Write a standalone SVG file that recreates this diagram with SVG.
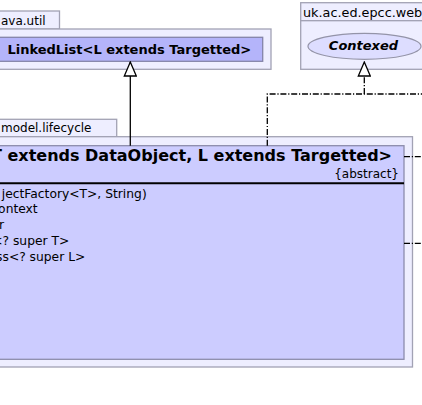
<svg xmlns="http://www.w3.org/2000/svg" width="422" height="405" viewBox="0 0 422 405">
<defs>
<style>
.pkg{fill:#eeeeff;stroke:#a2a2b4;stroke-width:1.3}
.cls{fill:#ccccff;stroke:#8c8cac;stroke-width:1.3}
.lnk{fill:#b4b4fa;stroke:#8484a8;stroke-width:1.3}
.ell{fill:#ddddff;stroke:#9494a8;stroke-width:1.2}
.t{font-family:"DejaVu Sans",sans-serif;font-size:12px;fill:#000}
.m{font-family:"DejaVu Sans",sans-serif;font-size:12.3px;fill:#000}
.b{font-family:"DejaVu Sans",sans-serif;font-weight:bold;fill:#000}
.edge{fill:none;stroke:#000;stroke-width:1.3}
.dash{stroke-dasharray:6,1.8,1.2,1.8}
</style>
<marker id="tri" viewBox="0 0 16 14" refX="15" refY="7" markerWidth="16" markerHeight="14" markerUnits="userSpaceOnUse" orient="auto">
<path d="M15,7 L1,1 L1,13 Z" fill="#fff" stroke="#000" stroke-width="1.3"/>
</marker>
</defs>
<rect width="422" height="405" fill="#fff"/>
<g id="pkg-java-util">
<rect class="pkg" x="-5" y="11" width="64.5" height="18"/>
<rect class="pkg" x="-5" y="29" width="276" height="40.3"/>
<text class="t" x="1" y="24.5">ava.util</text>
</g>
<g id="pkg-uk-ac-ed-epcc-web">
<rect class="pkg" x="300.7" y="2.7" width="130" height="18"/>
<rect class="pkg" x="300.7" y="20.7" width="130" height="48.6"/>
<text class="t" x="303" y="16.5" style="font-size:12.8px">uk.ac.ed.epcc.web</text>
</g>
<g id="pkg-model-lifecycle">
<rect class="pkg" x="-5" y="119.3" width="121.7" height="17.4"/>
<rect class="pkg" x="-5" y="136.7" width="417.5" height="230.3"/>
<text class="t" x="1" y="132">model.lifecycle</text>
</g>
<g id="LinkedList">
<rect class="lnk" x="-4" y="37.3" width="266.7" height="24"/>
<text class="b" x="129.3" y="54" font-size="13" text-anchor="middle">LinkedList&lt;L extends Targetted&gt;</text>
</g>
<g id="Contexed">
<ellipse class="ell" cx="364.5" cy="46.3" rx="56.5" ry="13"/>
<text class="b" x="363.5" y="49.5" font-size="13" font-style="italic" text-anchor="middle">Contexed</text>
</g>
<g id="LifecycleClass">
<rect class="cls" x="-5" y="145.7" width="409" height="213.6"/>
<line x1="-5" y1="183.3" x2="404" y2="183.3" stroke="#000" stroke-width="2"/>
<text class="b" x="392" y="161" font-size="16" text-anchor="end">T extends DataObject, L extends Targetted&gt;</text>
<text class="t" x="399" y="177.5" text-anchor="end">{abstract}</text>
<text class="m" x="146.7" y="197.5" text-anchor="end">jectFactory&lt;T&gt;, String)</text>
<text class="m" x="37.7" y="213.3" text-anchor="end">ontext</text>
<text class="m" x="4" y="229.1" text-anchor="end">r</text>
<text class="m" x="69.3" y="244.9" text-anchor="end">&lt;? super T&gt;</text>
<text class="m" x="85.3" y="260.7" text-anchor="end">ss&lt;? super L&gt;</text>
</g>
<g id="connectors">
<path class="edge" d="M130.3,145.7 L130.3,62" marker-end="url(#tri)"/>
<path class="edge dash" d="M267.3,145.7 L267.3,94 L422,94"/>
<path class="edge dash" d="M364.3,94 L364.3,62" marker-end="url(#tri)"/>
<path class="edge dash" d="M404,156.7 L422,156.7"/>
<path class="edge dash" d="M404,243.3 L422,243.3"/>
</g>
</svg>
